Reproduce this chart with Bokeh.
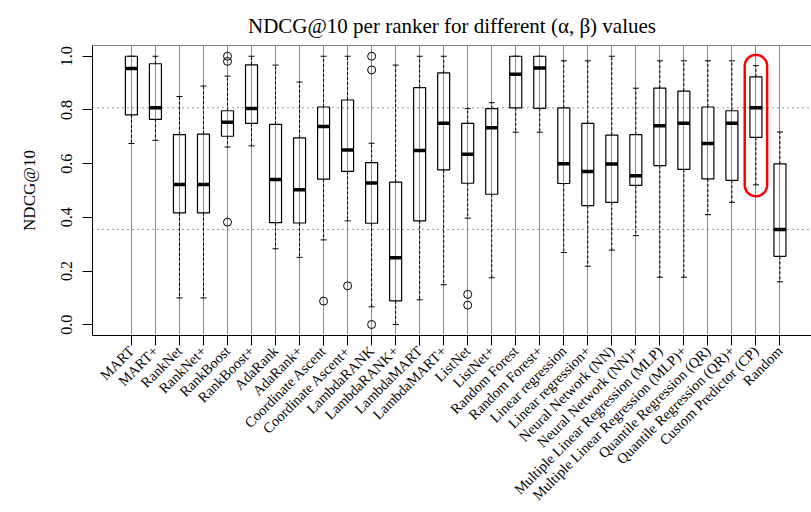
import numpy as np
from bokeh.plotting import figure
from bokeh.models import Range1d, FixedTicker, PrintfTickFormatter, Span, ColumnDataSource
from bokeh.embed import file_html
from bokeh.resources import INLINE

# ---------------- data ----------------
rankers = ["MART", "MART+", "RankNet", "RankNet+", "RankBoost", "RankBoost+",
           "AdaRank", "AdaRank+", "Coordinate Ascent", "Coordinate Ascent+",
           "LambdaRANK", "LambdaRANK+", "LambdaMART", "LambdaMART+",
           "ListNet", "ListNet+", "Random Forest", "Random Forest+",
           "Linear regression", "Linear regression+",
           "Neural Network (NN)", "Neural Network (NN)+",
           "Multiple Linear Regression (MLP)", "Multiple Linear Regression (MLP)+",
           "Quantile Regression (QR)", "Quantile Regression (QR)+",
           "Custom Predictor (CP)", "Random"]
whisker_low = [0.675, 0.687, 0.100, 0.100, 0.662, 0.666, 0.283, 0.251, 0.316, 0.387,
               0.067, 0.001, 0.093, 0.149, 0.397, 0.175, 0.717, 0.717, 0.269, 0.218,
               0.278, 0.332, 0.177, 0.177, 0.410, 0.456, 0.521, 0.160]
q1 = [0.782, 0.765, 0.417, 0.417, 0.702, 0.750, 0.380, 0.379, 0.542, 0.571,
      0.378, 0.089, 0.387, 0.577, 0.527, 0.486, 0.808, 0.806, 0.526, 0.444,
      0.456, 0.519, 0.593, 0.579, 0.543, 0.538, 0.698, 0.255]
median = [0.954, 0.808, 0.522, 0.522, 0.754, 0.805, 0.541, 0.503, 0.738, 0.651,
          0.528, 0.250, 0.649, 0.750, 0.635, 0.734, 0.933, 0.956, 0.600, 0.571,
          0.599, 0.555, 0.741, 0.750, 0.675, 0.750, 0.808, 0.355]
q3 = [1.000, 0.972, 0.708, 0.710, 0.797, 0.968, 0.746, 0.696, 0.811, 0.837,
      0.604, 0.531, 0.883, 0.938, 0.750, 0.805, 1.000, 1.000, 0.808, 0.750,
      0.706, 0.708, 0.881, 0.870, 0.811, 0.797, 0.923, 0.599]
whisker_high = [1.000, 1.000, 0.850, 0.889, 0.926, 1.000, 0.967, 0.904, 1.000, 1.000,
                0.676, 0.967, 1.000, 1.000, 0.805, 0.827, 1.000, 1.000, 0.983, 0.983,
                1.000, 0.881, 0.983, 0.983, 0.983, 0.983, 0.965, 0.718]
# outliers: (ranker position 1-based, value)
outlier_pos = [5, 5, 5, 9, 10, 11, 11, 11, 15, 15]
outlier_val = [1.000, 0.981, 0.382, 0.088, 0.145, 1.000, 0.949, 0.001, 0.113, 0.073]
y_ticks = [0.0, 0.2, 0.4, 0.6, 0.8, 1.0]
highlight = "Custom Predictor (CP)"
reference = "Random"

# ---------------- layout constants ----------------
FIG_W, FIG_H = 811, 512
BORDER_L, BORDER_T, BORDER_B = 92, 45, 177
X_START = -0.62
PX_PER_X = 24.02
X_END = X_START + (FIG_W - BORDER_L) / PX_PER_X
Y_START, Y_END = -0.04, 1.04
PX_PER_Y = (FIG_H - BORDER_T - BORDER_B) / (Y_END - Y_START)
BOX_W = 0.5
CAP_W = 0.25
FONT = "Liberation Serif"

n = len(rankers)
xs = np.arange(1, n + 1)

p = figure(width=FIG_W, height=FIG_H, output_backend="svg", toolbar_location=None,
           x_range=Range1d(X_START, X_END), y_range=Range1d(Y_START, Y_END),
           min_border_left=BORDER_L, min_border_right=0, min_border_top=BORDER_T,
           min_border_bottom=BORDER_B,
           title="NDCG@10 per ranker for different (\u03b1, \u03b2) values")
p.background_fill_color = "white"
p.border_fill_color = "white"
p.outline_line_color = None

p.title.text_font = FONT
p.title.text_font_size = "21px"
p.title.text_font_style = "normal"
p.title.text_color = "black"
p.title.align = "center"
p.title.offset = 12
p.title.standoff = 16

# grids
p.ygrid.grid_line_color = None
p.xaxis.ticker = FixedTicker(ticks=list(xs))
p.xaxis.major_label_overrides = {int(i): nm for i, nm in zip(xs, rankers)}
p.xgrid.grid_line_color = "#8a8a8a"
p.xgrid.grid_line_width = 1

# axes
p.yaxis.ticker = FixedTicker(ticks=y_ticks)
p.yaxis.formatter = PrintfTickFormatter(format="%.1f")
p.yaxis.major_label_orientation = "vertical"
p.yaxis.major_label_text_font_size = "16px"
p.yaxis.major_label_standoff = 10
p.yaxis.axis_label = "NDCG@10"
p.yaxis.axis_label_text_font = FONT
p.yaxis.axis_label_text_font_size = "17px"
p.yaxis.axis_label_text_font_style = "normal"
p.yaxis.axis_label_text_color = "black"
p.yaxis.axis_label_standoff = 20
for ax in (p.xaxis, p.yaxis):
    ax.major_tick_out = 10
    ax.major_tick_in = 0
    ax.minor_tick_line_color = None
    ax.axis_line_color = "black"
    ax.major_tick_line_color = "black"
    ax.major_label_text_font = FONT
    ax.major_label_text_color = "black"
p.xaxis.major_label_orientation = np.pi / 4
p.xaxis.major_label_text_font_size = "14.5px"
p.xaxis.major_label_standoff = 3

# top frame line
p.add_layout(Span(location=Y_END, dimension="width", line_color="black", line_width=1))

# reference lines at medians of highlighted and random rankers
for nm in (highlight, reference):
    p.add_layout(Span(location=median[rankers.index(nm)], dimension="width",
                      line_color="#333333", line_width=1, line_dash="1 4"))

src = ColumnDataSource(dict(x=xs, lo=whisker_low, q1=q1, med=median, q3=q3, hi=whisker_high,
                            left=xs - BOX_W / 2, right=xs + BOX_W / 2,
                            cl=xs - CAP_W / 2, cr=xs + CAP_W / 2))

# whiskers
p.segment(x0="x", y0="q3", x1="x", y1="hi", source=src, line_color="black",
          line_width=1, line_dash="3 2")
p.segment(x0="x", y0="q1", x1="x", y1="lo", source=src, line_color="black",
          line_width=1, line_dash="3 2")
# caps
p.segment(x0="cl", y0="hi", x1="cr", y1="hi", source=src, line_color="black", line_width=1)
p.segment(x0="cl", y0="lo", x1="cr", y1="lo", source=src, line_color="black", line_width=1)
# boxes
p.quad(left="left", right="right", bottom="q1", top="q3", source=src,
       fill_color=None, line_color="black", line_width=1.2)
# medians
p.segment(x0="left", y0="med", x1="right", y1="med", source=src, line_color="black",
          line_width=3.5, line_cap="butt")
# outliers
p.scatter(x=outlier_pos, y=outlier_val, marker="circle", size=8, fill_color=None,
          line_color="black", line_width=1)

# red highlight around the chosen predictor
hi_i = rankers.index(highlight)
pad_top = 0.04
pad_bot = 0.042
r_px = 11.2
rx = r_px / PX_PER_X
ry = r_px / PX_PER_Y
cx = xs[hi_i]
top_c = whisker_high[hi_i] + pad_top - ry
bot_c = whisker_low[hi_i] - pad_bot + ry
t1 = np.linspace(0, np.pi, 40)
t2 = np.linspace(np.pi, 2 * np.pi, 40)
hx = np.concatenate([cx + rx * np.cos(t1), cx + rx * np.cos(t2), [cx + rx]])
hy = np.concatenate([top_c + ry * np.sin(t1), bot_c + ry * np.sin(t2), [top_c]])
p.line(hx, hy, line_color="red", line_width=2.5)

open("out.html", "w").write(file_html(p, INLINE))
